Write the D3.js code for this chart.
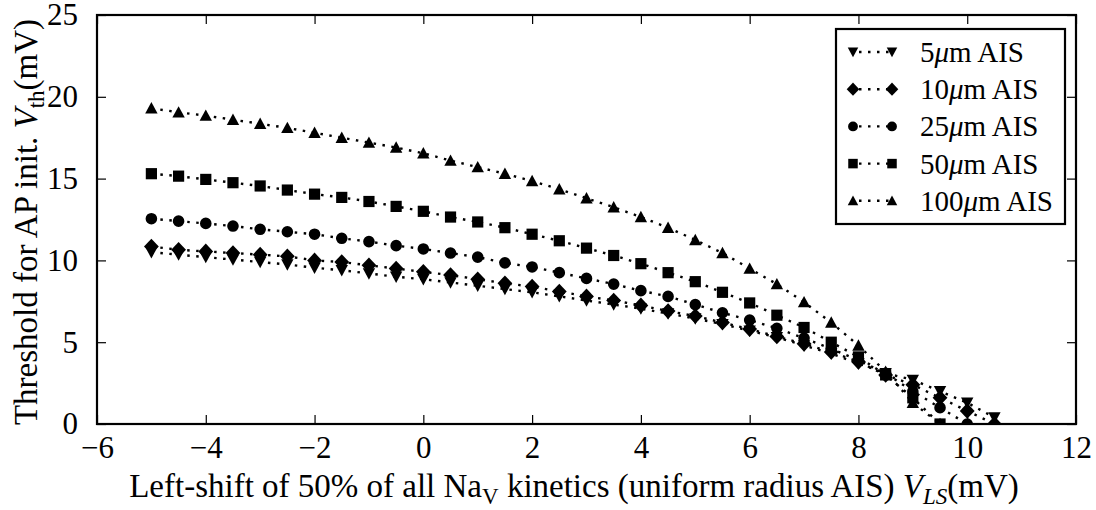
<!DOCTYPE html>
<html>
<head>
<meta charset="utf-8">
<script src="https://cdn.jsdelivr.net/npm/d3@7"></script>
<style>
  html, body { margin: 0; padding: 0; background: #fff; }
  svg { display: block; }
</style>
</head>
<body>
<svg id="chart" width="1096" height="510"></svg>
<script>
// Left-shift of Na_V kinetics (mV)
const shifts = [-5, -4.5, -4, -3.5, -3, -2.5, -2, -1.5, -1, -0.5, 0, 0.5, 1, 1.5, 2, 2.5,
                3, 3.5, 4, 4.5, 5, 5.5, 6, 6.5, 7, 7.5, 8, 8.5, 9, 9.5, 10, 10.5];

// AP initiation threshold (mV) for each AIS length
const ais5 = [10.5, 10.35, 10.2, 10.05, 9.9, 9.75, 9.55, 9.4, 9.2, 9.0, 8.85, 8.65, 8.45, 8.25, 8.05, 7.8,
              7.55, 7.3, 7.05, 6.75, 6.45, 6.1, 5.7, 5.3, 4.8, 4.3, 3.7, 3.1, 2.7, 2.0, 1.3, 0.4];
const ais10 = [10.85, 10.65, 10.55, 10.45, 10.35, 10.25, 10.0, 9.9, 9.7, 9.5, 9.3, 9.1, 8.85, 8.6, 8.4, 8.1,
               7.8, 7.55, 7.25, 6.9, 6.6, 6.2, 5.8, 5.35, 4.9, 4.4, 3.8, 3.0, 2.4, 1.6, 0.8, 0.0];
const ais25 = [12.55, 12.4, 12.26, 12.1, 11.9, 11.75, 11.6, 11.35, 11.15, 10.9, 10.7, 10.45, 10.2, 9.85, 9.6, 9.25,
               8.9, 8.55, 8.15, 7.8, 7.3, 6.8, 6.35, 5.85, 5.25, 4.6, 3.9, 3.1, 2.0, 1.0, 0.0];
const ais50 = [15.3, 15.15, 14.95, 14.75, 14.55, 14.3, 14.05, 13.85, 13.6, 13.3, 13.0, 12.65, 12.35, 12.0, 11.6, 11.2,
               10.75, 10.3, 9.8, 9.25, 8.7, 8.05, 7.4, 6.65, 5.9, 5.0, 4.1, 3.0, 1.6, 0.0];
const ais100 = [19.3, 19.05, 18.85, 18.6, 18.35, 18.1, 17.8, 17.5, 17.2, 16.9, 16.55, 16.1, 15.7, 15.3, 14.85, 14.35,
                13.8, 13.25, 12.65, 12.0, 11.25, 10.45, 9.5, 8.55, 7.45, 6.2, 4.8, 3.2, 1.3, 0.0];

const seriesLabels = ["5", "10", "25", "50", "100"];
const seriesMarkers = ["tridown", "diamond", "circle", "square", "triangle"];

const xTicks = [-6, -4, -2, 0, 2, 4, 6, 8, 10, 12];
const yTicks = [0, 5, 10, 15, 20, 25];

const series = [ais5, ais10, ais25, ais50, ais100].map((vals, i) => ({
  label: seriesLabels[i],
  marker: seriesMarkers[i],
  points: vals.map((v, j) => ({ x: shifts[j], y: v }))
}));

const FONT = "'Liberation Serif', 'DejaVu Serif', serif";
const DOTS = "2.5,6.5";
const svg = d3.select("#chart");
const pL = 97, pR = 1076, pT = 15, pB = 424;

const x = d3.scaleLinear().domain([-6, 12]).range([pL, pR]);
const y = d3.scaleLinear().domain([0, 25]).range([pB, pT]);

svg.append("defs").append("clipPath").attr("id", "plotclip")
  .append("rect").attr("x", pL).attr("y", pT)
  .attr("width", pR - pL).attr("height", pB - pT);

// marker shapes, centred on the origin
function markerPath(kind) {
  const p = d3.path();
  if (kind === "tridown") {
    p.moveTo(-6.2, -5.2); p.lineTo(6.2, -5.2); p.lineTo(0, 6.2); p.closePath();
  } else if (kind === "triangle") {
    p.moveTo(-6.2, 5.2); p.lineTo(6.2, 5.2); p.lineTo(0, -6.2); p.closePath();
  } else if (kind === "diamond") {
    p.moveTo(0, -7.8); p.lineTo(7.4, 0); p.lineTo(0, 7.8); p.lineTo(-7.4, 0); p.closePath();
  } else if (kind === "square") {
    p.rect(-5.6, -5.6, 11.2, 11.2);
  } else {
    p.arc(0, 0, 5.8, 0, 2 * Math.PI);
  }
  return p.toString();
}

const plot = svg.append("g").attr("clip-path", "url(#plotclip)");
const line = d3.line().x(d => x(d.x)).y(d => y(d.y));

series.forEach(s => {
  const g = plot.append("g");
  g.append("path").datum(s.points)
    .attr("d", line)
    .attr("fill", "none")
    .attr("stroke", "#000")
    .attr("stroke-width", 2.4)
    .attr("stroke-dasharray", DOTS);
  g.selectAll("path.m").data(s.points).join("path")
    .attr("class", "m")
    .attr("transform", d => `translate(${x(d.x)},${y(d.y)})`)
    .attr("d", markerPath(s.marker))
    .attr("fill", "#000");
});

// axes: inward ticks on all four sides
const tickLen = 9;
const axes = svg.append("g");
axes.append("g").attr("transform", `translate(0,${pB})`)
  .call(d3.axisBottom(x).tickValues(xTicks).tickSizeInner(-tickLen).tickSizeOuter(0).tickPadding(12)
    .tickFormat(d => d < 0 ? "\u2212" + Math.abs(d) : d));
axes.append("g").attr("transform", `translate(0,${pT})`)
  .call(d3.axisTop(x).tickValues(xTicks).tickSizeInner(-tickLen).tickSizeOuter(0).tickFormat(""));
axes.append("g").attr("transform", `translate(${pL},0)`)
  .call(d3.axisLeft(y).tickValues(yTicks).tickSizeInner(-tickLen).tickSizeOuter(0).tickPadding(19));
axes.append("g").attr("transform", `translate(${pR},0)`)
  .call(d3.axisRight(y).tickValues(yTicks).tickSizeInner(-tickLen).tickSizeOuter(0).tickFormat(""));
axes.selectAll(".domain").remove();
axes.selectAll("g").attr("font-family", null).attr("font-size", null);
axes.selectAll(".tick line").attr("stroke", "#000").attr("stroke-width", 1.2);
axes.selectAll(".tick text").style("font-family", FONT).style("font-size", "31px").attr("fill", "#000");

svg.append("rect").attr("x", pL).attr("y", pT)
  .attr("width", pR - pL).attr("height", pB - pT)
  .attr("fill", "none").attr("stroke", "#000").attr("stroke-width", 2.2);

// legend
const lg = svg.append("g");
lg.append("rect").attr("x", 836).attr("y", 29).attr("width", 229).attr("height", 195)
  .attr("fill", "#fff").attr("stroke", "#000").attr("stroke-width", 2.2);
series.forEach((s, i) => {
  const cy = 52 + i * 37.2;
  lg.append("line").attr("x1", 853).attr("x2", 892).attr("y1", cy).attr("y2", cy)
    .attr("stroke", "#000").attr("stroke-width", 2.4).attr("stroke-dasharray", DOTS).attr("stroke-dashoffset", -6);
  [853, 892].forEach(mx => lg.append("path")
    .attr("transform", `translate(${mx},${cy}) scale(0.85)`)
    .attr("d", markerPath(s.marker)).attr("fill", "#000"));
  const t = lg.append("text").attr("x", 920).attr("y", cy + 10)
    .style("font-family", FONT).style("font-size", "29px").attr("fill", "#000");
  t.append("tspan").text(s.label);
  t.append("tspan").attr("font-style", "italic").text("\u03bc");
  t.append("tspan").text("m AIS");
});

// axis titles
const xl = svg.append("text").attr("x", 574).attr("y", 497).attr("text-anchor", "middle")
  .style("font-family", FONT).style("font-size", "33px").attr("fill", "#000");
xl.append("tspan").text("Left-shift of 50% of all Na");
xl.append("tspan").attr("dy", 7).style("font-size", "23px").text("V");
xl.append("tspan").attr("dy", -7).text(" kinetics (uniform radius AIS) ");
xl.append("tspan").attr("font-style", "italic").text("V");
xl.append("tspan").attr("dy", 7).attr("font-style", "italic").style("font-size", "23px").text("LS");
xl.append("tspan").attr("dy", -7).text("(mV)");

const yl = svg.append("text").attr("transform", "translate(37,222) rotate(-90)")
  .attr("text-anchor", "middle")
  .style("font-family", FONT).style("font-size", "33px").attr("fill", "#000");
yl.append("tspan").text("Threshold for AP init. ");
yl.append("tspan").attr("font-style", "italic").text("V");
yl.append("tspan").attr("dy", 7).style("font-size", "23px").text("th");
yl.append("tspan").attr("dy", -7).text("(mV)");
</script>
</body>
</html>
